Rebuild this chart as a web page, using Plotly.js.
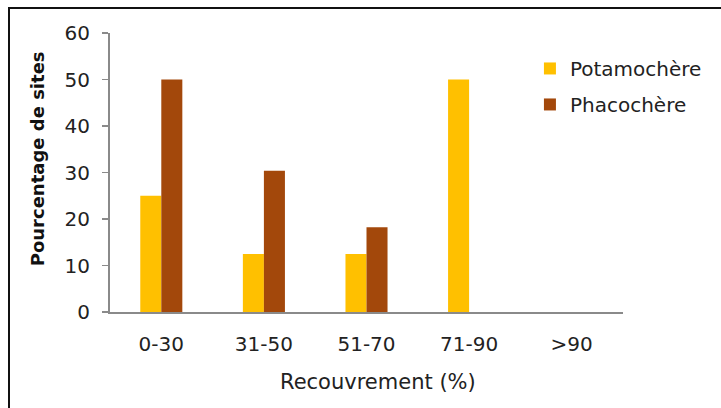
<!DOCTYPE html>
<html>
<head>
<meta charset="utf-8">
<script src="https://cdn.plot.ly/plotly-3.0.1.min.js"></script>
<style>
html,body{margin:0;padding:0;background:#fff;}
#wrap{position:relative;width:721px;height:408px;overflow:hidden;}
#chart{position:absolute;left:0;top:0;width:721px;height:408px;}
#frame{position:absolute;left:8px;top:7px;width:740px;height:420px;border-left:2px solid #111;border-top:2px solid #111;pointer-events:none;}
</style>
</head>
<body>
<div id="wrap"><div id="chart"></div><div id="frame"></div></div>
<script>
const categories = ['0-30', '31-50', '51-70', '71-90', '>90'];
const potamochere = [25, 12.5, 12.5, 50, 0];
const phacochere = [50, 30.4, 18.2, 0, 0];
const seriesNames = ['Potamochère', 'Phacochère'];
const yTicks = [0, 10, 20, 30, 40, 50, 60];

const font = 'DejaVu Sans, Verdana, sans-serif';

const data = [
  {type: 'bar', x: categories, y: potamochere, name: seriesNames[0], legendgroup: 'a',
   marker: {color: '#FFC000'}},
  {type: 'bar', x: categories, y: phacochere, name: seriesNames[1], legendgroup: 'b',
   marker: {color: '#A3480B'}}
];

const layout = {
  width: 721, height: 408,
  margin: {l: 110, r: 98, t: 33, b: 96, autoexpand: false},
  paper_bgcolor: '#fff', plot_bgcolor: '#fff',
  barmode: 'group', bargap: 0.59, bargroupgap: 0,
  font: {family: font, size: 20, color: '#222'},
  showlegend: true,
  legend: {xref: 'container', yref: 'container', x: 0.735, y: 0.88, xanchor: 'left', yanchor: 'top',
           bgcolor: 'rgba(0,0,0,0)',
           font: {family: font, size: 20, color: '#222'}, tracegroupgap: 7,
           itemwidth: 30, traceorder: 'grouped'},
  xaxis: {showline: true, linecolor: '#8a8a8a', linewidth: 2, ticks: '', showgrid: false,
          zeroline: false, tickfont: {family: font, size: 20, color: '#222'},
          ticklabelstandoff: 13, fixedrange: true, automargin: false},
  yaxis: {range: [0, 60], tickvals: yTicks, showline: true, linecolor: '#8a8a8a', linewidth: 2,
          ticks: 'outside', ticklen: 6, tickcolor: '#8a8a8a', tickwidth: 1.5,
          showgrid: false, zeroline: false, tickfont: {family: font, size: 20, color: '#222'},
          ticklabelstandoff: 8, fixedrange: true, automargin: false},
  annotations: [
    {text: 'Pourcentage de sites', xref: 'paper', yref: 'paper', x: -0.142, y: 0.548,
     textangle: -90, showarrow: false, xanchor: 'center', yanchor: 'middle',
     font: {family: font, size: 18, color: '#111', weight: 'bold'}},
    {text: 'Recouvrement (%)', xref: 'paper', yref: 'paper', x: 0.522, y: -0.25,
     showarrow: false, xanchor: 'center', yanchor: 'middle',
     font: {family: font, size: 21, color: '#222'}}
  ]
};

Plotly.newPlot('chart', data, layout, {displayModeBar: false, staticPlot: true});
</script>
</body>
</html>
